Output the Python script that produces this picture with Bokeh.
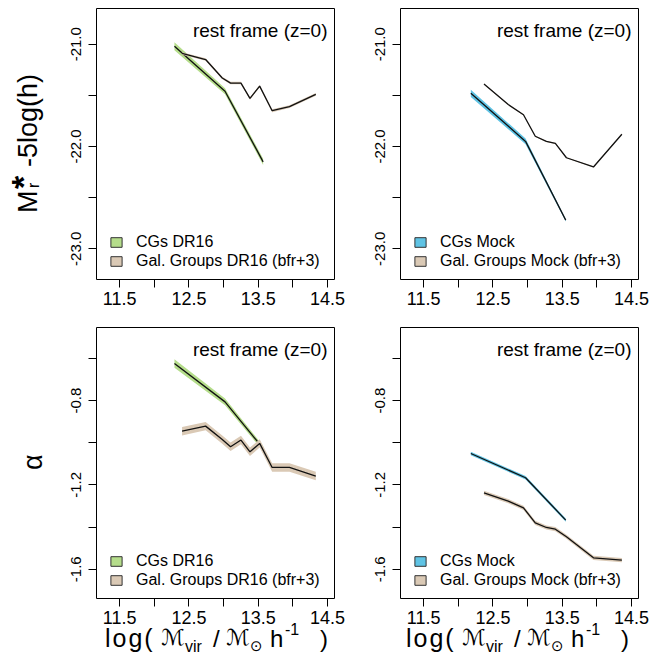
import math
from bokeh.plotting import figure
from bokeh.layouts import column, row
from bokeh.models import Range1d, FixedTicker, Label, Legend, LegendItem, Div
from bokeh.embed import file_html
from bokeh.resources import INLINE

# ---------------- data ----------------
# Compact groups, SDSS DR16
cg_dr16_logm = [12.29, 13.02, 13.57]
cg_dr16_mstar = [-21.02, -21.46, -22.15]
cg_dr16_mstar_err = [0.040, 0.030, 0.030]
cg_dr16_alpha = [-0.624, -0.806, -1.027]
cg_dr16_alpha_err = [0.020, 0.016, 0.012]

# Galaxy groups, SDSS DR16 (bfr+3)
gg_dr16_logm = [12.40, 12.74, 12.98, 13.10, 13.25, 13.38, 13.52, 13.70, 13.95, 14.33]
gg_dr16_mstar = [-21.09, -21.15, -21.33, -21.38, -21.38, -21.53, -21.41, -21.65, -21.61, -21.49]
gg_dr16_mstar_err = [0.012, 0.012, 0.012, 0.012, 0.012, 0.012, 0.012, 0.014, 0.014, 0.014]
gg_dr16_alpha = [-0.945, -0.921, -0.985, -1.019, -0.987, -1.043, -1.003, -1.117, -1.117, -1.158]
gg_dr16_alpha_err = [0.020, 0.020, 0.020, 0.020, 0.020, 0.020, 0.020, 0.020, 0.020, 0.020]

# Compact groups, mock catalogue
cg_mock_logm = [12.18, 12.97, 13.55]
cg_mock_mstar = [-21.48, -21.95, -22.72]
cg_mock_mstar_err = [0.035, 0.028, 0.012]
cg_mock_alpha = [-1.051, -1.166, -1.367]
cg_mock_alpha_err = [0.008, 0.008, 0.008]

# Galaxy groups, mock catalogue (bfr+3)
gg_mock_logm = [12.37, 12.72, 12.94, 13.11, 13.27, 13.40, 13.56, 13.95, 14.36]
gg_mock_mstar = [-21.39, -21.59, -21.69, -21.90, -21.95, -21.97, -22.11, -22.20, -21.88]
gg_mock_mstar_err = [0.006, 0.006, 0.006, 0.006, 0.006, 0.006, 0.006, 0.006, 0.006]
gg_mock_alpha = [-1.238, -1.277, -1.309, -1.380, -1.402, -1.410, -1.446, -1.546, -1.557]
gg_mock_alpha_err = [0.010, 0.010, 0.010, 0.010, 0.010, 0.010, 0.010, 0.010, 0.010]

# axis ticks and labels
x_ticks = [11.5, 12.0, 12.5, 13.0, 13.5, 14.0, 14.5]
x_tick_labels = ["11.5", "", "12.5", "", "13.5", "", "14.5"]
mstar_ticks = [-23.0, -22.5, -22.0, -21.5, -21.0]
mstar_tick_labels = ["-23.0", "", "-22.0", "", "-21.0"]
alpha_ticks = [-1.6, -1.4, -1.2, -1.0, -0.8, -0.6]
alpha_tick_labels = ["-1.6", "", "-1.2", "", "-0.8", ""]

# ---------------- style ----------------
FONT = "Liberation Sans"
GREEN = "#b5dd8b"
BLUE = "#5fc3e4"
TAN = "#dac9b5"
LINE = "#111111"

X_RANGE = (11.165, 14.60)
MSTAR_RANGE = (-23.30, -20.651)
ALPHA_RANGE = (-1.739, -0.453)

FRAME_W, FRAME_H = 238, 271
TITLE_W = 44                      # column holding the rotated y titles
LEFT_W, RIGHT_W = 322, 295
RIGHT_BORDER = 34
TOP_H, BOTTOM_H = 318, 313
XT_H, XT_LIFT = 34, 10            # x-title strip, pulled up under the tick labels


def make_panel(width, height, left, top, y_range, y_ticks, y_labels):
    p = figure(width=width, height=height,
               x_range=Range1d(*X_RANGE), y_range=Range1d(*y_range),
               output_backend="svg", toolbar_location=None,
               min_border_left=left, min_border_top=top,
               min_border_right=width - left - FRAME_W,
               min_border_bottom=height - top - FRAME_H)
    p.grid.visible = False
    p.outline_line_color = "black"
    p.outline_line_alpha = 1.0
    p.outline_line_width = 1
    p.background_fill_color = "white"
    p.border_fill_color = None

    xa, ya = p.xaxis[0], p.yaxis[0]
    xa.ticker = FixedTicker(ticks=x_ticks)
    xa.major_label_overrides = dict(zip(x_ticks, x_tick_labels))
    xa.major_label_text_font_size = "18px"
    xa.major_label_standoff = 4
    ya.ticker = FixedTicker(ticks=y_ticks)
    ya.major_label_overrides = dict(zip(y_ticks, y_labels))
    ya.major_label_text_font_size = "15px"
    ya.major_label_orientation = "vertical"
    ya.major_label_standoff = 7
    for ax in (xa, ya):
        ax.axis_line_color = None
        ax.major_tick_out = 8
        ax.major_tick_in = 0
        ax.major_tick_line_color = "black"
        ax.minor_tick_line_color = None
        ax.major_label_text_font = FONT
        ax.major_label_text_color = "black"
    return p


def add_series(p, xs, ys, errs, color):
    lo = [y - e for y, e in zip(ys, errs)]
    hi = [y + e for y, e in zip(ys, errs)]
    p.varea(x=xs, y1=lo, y2=hi, fill_color=color, fill_alpha=1.0)
    p.line(xs, ys, line_color=LINE, line_width=1.3)
    # zero-size key swatch anchored on the series' first point (legend glyph only)
    key = p.rect(x=xs[:1], y=ys[:1], width=0, height=0, fill_color=color,
                 line_color="#333333", line_width=1)
    return key


def add_legend(p, labels, keys):
    items = [LegendItem(label=lab, renderers=[k]) for lab, k in zip(labels, keys)]
    leg = Legend(items=items, location=(13, 9), margin=0, padding=0,
                 spacing=0, glyph_width=14, glyph_height=12, label_standoff=13,
                 label_height=19, label_text_font=FONT,
                 label_text_font_size="16px", label_text_color="black",
                 background_fill_alpha=0, border_line_color=None)
    p.add_layout(leg)


def add_tag(p):
    p.add_layout(Label(x=FRAME_W - 7, y=FRAME_H - 22, x_units="screen", y_units="screen",
                       text="rest frame (z=0)", text_align="right",
                       text_baseline="alphabetic", text_font=FONT,
                       text_font_size="19px", text_color="black"))


# ---------------- HTML titles ----------------
def piece(text, left, top, size, rotate=False, family="'Liberation Sans', 'DejaVu Sans'",
          weight="normal", spacing=0):
    rot = "transform-origin:0 0;transform:rotate(-90deg);" if rotate else ""
    return (f'<span style="position:absolute;left:{left}px;top:{top}px;'
            f'font-family:{family};font-size:{size}px;line-height:{size}px;'
            f'font-weight:{weight};letter-spacing:{spacing}px;white-space:nowrap;'
            f'color:#000;{rot}">{text}</span>')


def box(width, height, inner):
    return (f'<div style="position:relative;width:{width}px;height:{height}px;">'
            f'{inner}</div>')


mstar_title = box(TITLE_W, TOP_H,
                  piece("M", 15, 213, 27, rotate=True)
                  + piece("*", 6, 189, 34, rotate=True, weight="bold")
                  + piece("r", 26, 188, 16, rotate=True)
                  + piece("-5log(h)", 15, 167, 27, rotate=True))
alpha_title = box(TITLE_W, BOTTOM_H, piece("\u03b1", 20, 152, 27, rotate=True))


def mass_title(dx):
    return (piece("log(", 105 + dx, 5, 25, spacing=2)
            + piece("\u2133", 161 + dx, 6, 22, family="'DejaVu Sans'")
            + piece("vir", 185 + dx, 18, 16)
            + piece("/", 213 + dx, 6, 24)
            + piece("\u2133", 226 + dx, 6, 22, family="'DejaVu Sans'")
            + piece("\u2299", 250 + dx, 18, 15, family="'DejaVu Sans'")
            + piece("h", 270 + dx, 6, 24)
            + piece("-1", 285 + dx, 1, 16)
            + piece(")", 320 + dx, 6, 24))


x_title = box(TITLE_W + LEFT_W + RIGHT_W, XT_H, mass_title(0) + mass_title(301))

# ---------------- panels ----------------
tl = make_panel(LEFT_W, TOP_H, 96 - TITLE_W, 8, MSTAR_RANGE, mstar_ticks, mstar_tick_labels)
k1 = add_series(tl, cg_dr16_logm, cg_dr16_mstar, cg_dr16_mstar_err, GREEN)
k2 = add_series(tl, gg_dr16_logm, gg_dr16_mstar, gg_dr16_mstar_err, TAN)
add_legend(tl, ["CGs DR16", "Gal. Groups DR16 (bfr+3)"], [k1, k2])
add_tag(tl)

tr = make_panel(RIGHT_W, TOP_H, RIGHT_BORDER, 8, MSTAR_RANGE, mstar_ticks, mstar_tick_labels)
k1 = add_series(tr, cg_mock_logm, cg_mock_mstar, cg_mock_mstar_err, BLUE)
k2 = add_series(tr, gg_mock_logm, gg_mock_mstar, gg_mock_mstar_err, TAN)
add_legend(tr, ["CGs Mock", "Gal. Groups Mock (bfr+3)"], [k1, k2])
add_tag(tr)

bl = make_panel(LEFT_W, BOTTOM_H, 96 - TITLE_W, 9, ALPHA_RANGE, alpha_ticks, alpha_tick_labels)
k1 = add_series(bl, cg_dr16_logm, cg_dr16_alpha, cg_dr16_alpha_err, GREEN)
k2 = add_series(bl, gg_dr16_logm, gg_dr16_alpha, gg_dr16_alpha_err, TAN)
add_legend(bl, ["CGs DR16", "Gal. Groups DR16 (bfr+3)"], [k1, k2])
add_tag(bl)

br = make_panel(RIGHT_W, BOTTOM_H, RIGHT_BORDER, 9, ALPHA_RANGE, alpha_ticks, alpha_tick_labels)
k1 = add_series(br, cg_mock_logm, cg_mock_alpha, cg_mock_alpha_err, BLUE)
k2 = add_series(br, gg_mock_logm, gg_mock_alpha, gg_mock_alpha_err, TAN)
add_legend(br, ["CGs Mock", "Gal. Groups Mock (bfr+3)"], [k1, k2])
add_tag(br)

top_row = row(Div(text=mstar_title, width=TITLE_W, height=TOP_H, margin=0), tl, tr)
bottom_row = row(Div(text=alpha_title, width=TITLE_W, height=BOTTOM_H, margin=0), bl, br)
title_row = Div(text=x_title, width=TITLE_W + LEFT_W + RIGHT_W, height=XT_H,
                margin=(-XT_LIFT, 0, 0, 0))

layout = column(top_row, bottom_row, title_row)
open("out.html", "w").write(file_html(layout, INLINE))
